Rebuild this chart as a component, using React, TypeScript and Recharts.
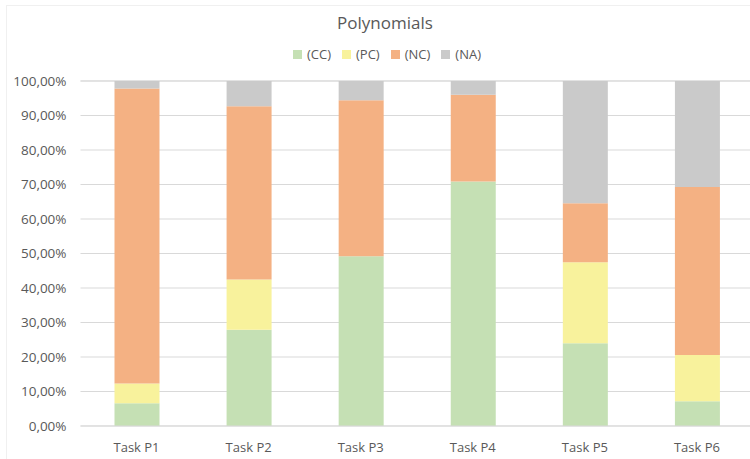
import { BarChart, Bar, XAxis, YAxis, CartesianGrid } from 'recharts'

const tasks = ['Task P1', 'Task P2', 'Task P3', 'Task P4', 'Task P5', 'Task P6']
const cc = [6.6, 27.9, 49.2, 70.9, 24.0, 7.2]
const pc = [5.7, 14.6, 0, 0, 23.5, 13.4]
const nc = [85.5, 50.2, 45.2, 25.1, 17.1, 48.7]
const na = [2.2, 7.3, 5.6, 4.0, 35.4, 30.7]
const yTicks = [0, 10, 20, 30, 40, 50, 60, 70, 80, 90, 100]

const series = [
  { key: 'cc', name: '(CC)', color: '#c5e0b4' },
  { key: 'pc', name: '(PC)', color: '#f8f29c' },
  { key: 'nc', name: '(NC)', color: '#f4b183' },
  { key: 'na', name: '(NA)', color: '#cacaca' }
]

const data = tasks.map((task, i) => ({
  task,
  cc: cc[i],
  pc: pc[i],
  nc: nc[i],
  na: na[i]
}))

const FONT = '"Open Sans", "Noto Sans", sans-serif'
const TEXT = '#595959'

const fmt = (v: number) => `${v.toFixed(2).replace('.', ',')}%`

// title + legend sit above the plot, as in the Excel original
const Header = () => (
  <div
    style={{
      position: 'absolute',
      left: 0,
      top: 11,
      width: 770,
      fontFamily: FONT,
      color: TEXT,
      textAlign: 'center'
    }}
  >
    <div style={{ fontSize: 17, lineHeight: '24px' }}>Polynomials</div>
    <div
      style={{
        display: 'flex',
        justifyContent: 'center',
        gap: 11,
        marginTop: 10,
        marginLeft: 4,
        fontSize: 13,
        lineHeight: '18px'
      }}
    >
      {series.map((s) => (
        <div key={s.key} style={{ display: 'flex', alignItems: 'center', gap: 5 }}>
          <span style={{ width: 9, height: 9, background: s.color, display: 'inline-block' }} />
          <span>{s.name}</span>
        </div>
      ))}
    </div>
  </div>
)

export default function App() {
  return (
    <div
      style={{
        position: 'absolute',
        left: 0,
        top: 0,
        width: 750,
        height: 459,
        overflow: 'hidden',
        background: '#fff'
      }}
    >
      <div
        style={{
          position: 'absolute',
          left: 6,
          top: 5,
          width: 800,
          height: 500,
          border: '1px solid #f0f0f0'
        }}
      />
      <Header />
      <BarChart
        width={770}
        height={459}
        data={data}
        margin={{ top: 81, right: 17, left: 0, bottom: 0 }}
        barSize={45}
      >
        <CartesianGrid vertical={false} stroke="#d9d9d9" />
        <XAxis
          dataKey="task"
          height={33}
          tickLine={false}
          tickSize={0}
          tickMargin={17}
          axisLine={{ stroke: '#d9d9d9' }}
          tick={{ fontSize: 13, fill: TEXT, fontFamily: FONT }}
        />
        <YAxis
          width={80.5}
          domain={[0, 100]}
          ticks={yTicks}
          tickFormatter={fmt}
          axisLine={false}
          tickLine={false}
          tickSize={0}
          tickMargin={14}
          tick={{ fontSize: 13.5, fill: TEXT, fontFamily: FONT }}
        />
        {series.map((s) => (
          <Bar
            key={s.key}
            dataKey={s.key}
            name={s.name}
            stackId="a"
            fill={s.color}
            isAnimationActive={false}
          />
        ))}
      </BarChart>
    </div>
  )
}
